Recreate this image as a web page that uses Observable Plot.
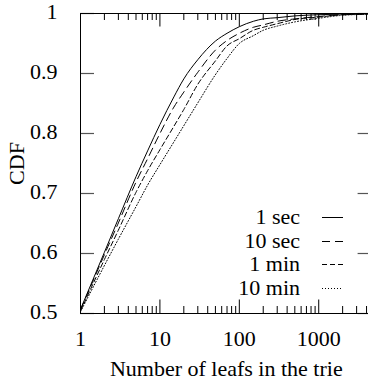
<!DOCTYPE html>
<html>
<head>
<meta charset="utf-8">
<script src="https://cdn.jsdelivr.net/npm/d3@7"></script>
<script src="https://cdn.jsdelivr.net/npm/@observablehq/plot@0.6"></script>
<style>
  html, body { margin: 0; padding: 0; background: white; }
  #wrap { position: relative; width: 368px; height: 384px; overflow: hidden; font-family: "Liberation Serif", "DejaVu Serif", "Times New Roman", serif; }
  #wrap svg, #wrap svg text { font-family: "Liberation Serif", "DejaVu Serif", "Times New Roman", serif !important; }
  #legend { position: absolute; left: 0; top: 0; width: 368px; height: 384px; pointer-events: none; }
  .lrow { position: absolute; height: 22px; line-height: 22px; font-size: 22px; color: black; }
  .ltext { position: absolute; right: 68px; white-space: nowrap; text-align: right; }
</style>
</head>
<body>
<div id="wrap"></div>
<script>
// ---- data ----
const leafs = [1, 2, 3, 5, 7, 10, 15, 20, 30, 50, 70, 100, 150, 200, 300, 500, 1000, 2000, 5000];
const cdf1sec  = [0.507, 0.602, 0.658, 0.728, 0.771, 0.815, 0.861, 0.891, 0.923, 0.954, 0.967, 0.978, 0.987, 0.991, 0.993, 0.996, 0.998, 0.999, 1.000];
const cdf10sec = [0.506, 0.598, 0.651, 0.719, 0.758, 0.800, 0.844, 0.869, 0.902, 0.939, 0.955, 0.967, 0.977, 0.981, 0.987, 0.991, 0.995, 0.998, 0.999];
const cdf1min  = [0.504, 0.590, 0.639, 0.702, 0.738, 0.773, 0.812, 0.840, 0.882, 0.921, 0.946, 0.958, 0.972, 0.977, 0.983, 0.990, 0.994, 0.998, 0.999];
const cdf10min = [0.503, 0.580, 0.624, 0.678, 0.714, 0.748, 0.786, 0.813, 0.851, 0.898, 0.925, 0.950, 0.963, 0.972, 0.979, 0.986, 0.992, 0.997, 0.999];
const seriesNames = ["1 sec", "10 sec", "1 min", "10 min"];
const seriesDash = ["none", "8,5", "5,3", "1,2"];
const xMajorTicks = [1, 10, 100, 1000];
const yTicks = [0.5, 0.6, 0.7, 0.8, 0.9, 1];
const yTickLabels = ["0.5", "0.6", "0.7", "0.8", "0.9", "1"];
const xLabel = "Number of leafs in the trie";
const yLabel = "CDF";

// ---- build table ----
const allSeries = [cdf1sec, cdf10sec, cdf1min, cdf10min];
const rows = allSeries.flatMap((vals, i) => vals.map((v, j) => ({series: seriesNames[i], leafs: leafs[j], cdf: v})));

const xMinorTicks = [];
for (const base of [1, 10, 100, 1000]) for (let k = 2; k <= 9; k++) if (base * k < 4700) xMinorTicks.push(base * k);

const FONT = "'Liberation Serif', 'DejaVu Serif', 'Times New Roman', serif";
const W = 368, H = 384;
const mL = 80, mT = 13, mB = 71, mR = -3.6;
const plotH = H - mT - mB;      // 300
const plotW = W - mR - mL;      // 291.6
const major = 13.5, minor = 7;

const lineMarks = seriesNames.map((name, i) =>
  Plot.line(rows.filter(d => d.series === name), {
    x: "leafs", y: "cdf", curve: "monotone-x",
    stroke: "black", strokeWidth: 1, strokeDasharray: seriesDash[i] === "none" ? null : seriesDash[i],
    clip: "frame"
  })
);

const chart = Plot.plot({
  width: W, height: H,
  marginLeft: mL, marginRight: mR, marginTop: mT, marginBottom: mB,
  style: {fontFamily: FONT, fontSize: "22px", color: "black", background: "white", overflow: "hidden"},
  x: {type: "log", domain: [1, 4700], axis: null},
  y: {type: "linear", domain: [0.5, 1], axis: null},
  marks: [
    // ticks
    Plot.ruleX(xMajorTicks, {x: d => d, insetTop: plotH - major, stroke: "black", strokeWidth: 1}),
    Plot.ruleX(xMajorTicks, {x: d => d, insetBottom: plotH - major, stroke: "black", strokeWidth: 1}),
    Plot.ruleX(xMinorTicks, {x: d => d, insetTop: plotH - minor, stroke: "black", strokeWidth: 1}),
    Plot.ruleX(xMinorTicks, {x: d => d, insetBottom: plotH - minor, stroke: "black", strokeWidth: 1}),
    Plot.ruleY(yTicks, {y: d => d, insetRight: plotW - 14, stroke: "#555", strokeWidth: 1.2}),
    Plot.ruleY(yTicks, {y: d => d, insetLeft: plotW - 14, stroke: "#555", strokeWidth: 1.2}),
    // tick labels
    Plot.axisX(xMajorTicks, {anchor: "bottom", tickSize: 0, tickPadding: 17, tickFormat: d => String(d), label: null, fontSize: 22, fontFamily: FONT}),
    Plot.axisY(yTicks, {anchor: "left", tickSize: 0, tickPadding: 23, dy: -2, tickFormat: d => yTickLabels[yTicks.indexOf(d)], label: null, fontSize: 22, fontFamily: FONT}),
    // axis titles
    Plot.text([xLabel], {frameAnchor: "bottom", lineAnchor: "middle", textAnchor: "middle", text: d => d, dy: 55, fontSize: 22, fontFamily: FONT}),
    Plot.text([yLabel], {frameAnchor: "left", lineAnchor: "middle", textAnchor: "middle", text: d => d, rotate: -90, dx: -64, fontSize: 22, fontFamily: FONT}),
    ...lineMarks,
    Plot.frame({stroke: "black", strokeWidth: 1})
  ]
});

const wrap = document.getElementById("wrap");
wrap.appendChild(chart);

// ---- legend (inside plot, right side) ----
const legend = document.createElement("div");
legend.id = "legend";
const rowCenters = [217, 240.5, 264, 287.5];
seriesNames.forEach((name, i) => {
  const row = document.createElement("div");
  row.className = "lrow";
  row.style.top = (rowCenters[i] - 11) + "px";
  row.style.left = "0px";
  row.style.width = "368px";
  const t = document.createElement("span");
  t.className = "ltext";
  t.textContent = name;
  row.appendChild(t);
  const svgNS = "http://www.w3.org/2000/svg";
  const s = document.createElementNS(svgNS, "svg");
  s.setAttribute("width", "24");
  s.setAttribute("height", "22");
  s.style.position = "absolute";
  s.style.left = "321px";
  s.style.top = "0px";
  const ln = document.createElementNS(svgNS, "line");
  ln.setAttribute("x1", "1"); ln.setAttribute("x2", "22");
  ln.setAttribute("y1", "11.5"); ln.setAttribute("y2", "11.5");
  ln.setAttribute("stroke", "black");
  ln.setAttribute("stroke-width", "1");
  if (seriesDash[i] !== "none") ln.setAttribute("stroke-dasharray", seriesDash[i]);
  s.appendChild(ln);
  row.appendChild(s);
  legend.appendChild(row);
});
wrap.appendChild(legend);
</script>
</body>
</html>
